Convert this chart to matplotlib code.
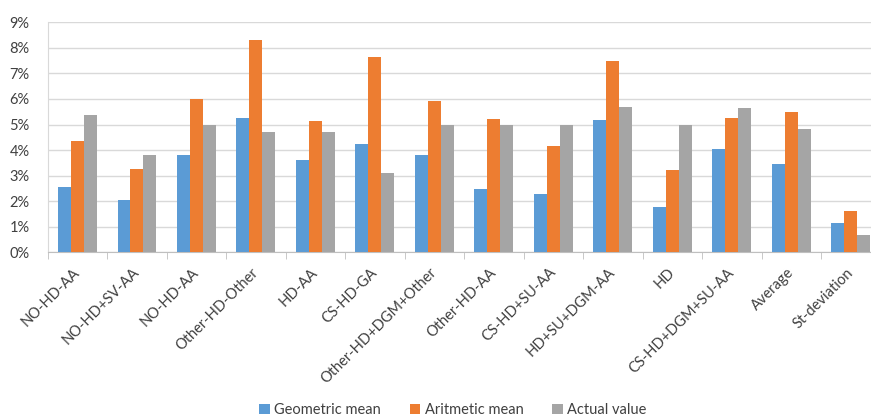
import matplotlib.pyplot as plt
import numpy as np
from matplotlib.ticker import FuncFormatter, FixedLocator

plt.rcParams['font.family'] = ['Lato', 'DejaVu Sans']

categories = ["NO-HD-AA", "NO-HD+SV-AA", "NO-HD-AA", "Other-HD-Other", "HD-AA",
              "CS-HD-GA", "Other-HD+DGM+Other", "Other-HD-AA", "CS-HD+SU-AA",
              "HD+SU+DGM-AA", "HD", "CS-HD+DGM+SU-AA", "Average", "St-deviation"]
geometric_mean = [2.54, 2.05, 3.81, 5.25, 3.60, 4.25, 3.81, 2.49, 2.29, 5.19, 1.78, 4.04, 3.44, 1.15]
aritmetic_mean = [4.35, 3.25, 6.01, 8.32, 5.15, 7.65, 5.91, 5.20, 4.16, 7.47, 3.23, 5.25, 5.49, 1.63]
actual_value = [5.36, 3.81, 4.98, 4.71, 4.71, 3.09, 4.98, 4.98, 4.98, 5.70, 4.98, 5.66, 4.84, 0.69]

series = [("Geometric mean", geometric_mean, "#5B9BD5"),
          ("Aritmetic mean", aritmetic_mean, "#ED7D31"),
          ("Actual value", actual_value, "#A5A5A5")]

fig = plt.figure(figsize=(8.71, 4.16), dpi=100)
ax = fig.add_axes([0.0548, 0.3935, 1.011 - 0.0548, 0.9464 - 0.3935])

x = np.arange(len(categories))
w = 0.218
for i, (name, vals, col) in enumerate(series):
    ax.bar(x + (i - 1) * w, np.array(vals) / 100, width=w, color=col, label=name, zorder=3)

ax.set_xlim(-0.5, len(categories) - 0.5)
ax.set_ylim(0, 0.09)
ax.set_yticks(np.arange(0, 0.091, 0.01))
ax.yaxis.set_major_formatter(FuncFormatter(lambda v, p: f"{v*100:.0f}%"))
ax.grid(axis='y', color='#D9D9D9', linewidth=1.0, zorder=0)
ax.set_axisbelow(True)

for s in ['top', 'right']:
    ax.spines[s].set_visible(False)
ax.spines['left'].set_color('#D9D9D9')
ax.spines['bottom'].set_color('#BFBFBF')

ax.tick_params(axis='y', length=0, pad=13, labelsize=10.5, labelcolor='#404040')
ax.set_xticks(x)
ax.set_xticklabels(categories, rotation=45, ha='right', va='center',
                   rotation_mode='anchor', fontsize=10.5, color='#404040')
ax.tick_params(axis='x', which='major', length=0, pad=13)
ax.xaxis.set_minor_locator(FixedLocator(np.arange(-0.5, len(categories), 1.0)))
ax.tick_params(axis='x', which='minor', length=5, color='#BFBFBF')

fig.legend(loc='center', bbox_to_anchor=(0.52, 0.015), ncol=3, frameon=False,
           fontsize=10.5, handlelength=0.7, handleheight=0.7, handletextpad=0.3,
           columnspacing=2.0, labelcolor='#404040')

fig.savefig("out.png", dpi=100)
